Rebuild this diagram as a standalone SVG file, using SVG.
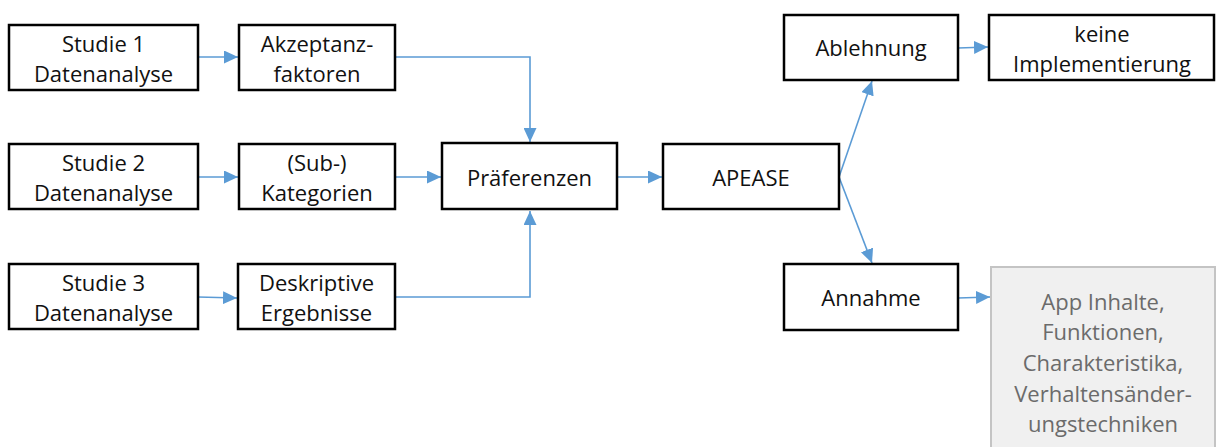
<svg xmlns="http://www.w3.org/2000/svg" width="1217" height="447" viewBox="0 0 1217 447">
<style>
.box{fill:#fff;stroke:#000;stroke-width:2.5}
.gbox{fill:#f0f0f0;stroke:#c4c4c4;stroke-width:2}
text{font-family:"Open Sans","Liberation Sans",sans-serif;font-size:22px;fill:#111;text-anchor:middle}
.g{fill:#6b6b6b}
.c{fill:none;stroke:#5b9bd5;stroke-width:1.6}
</style>
<defs>
<marker id="ah" markerWidth="14" markerHeight="13" refX="14" refY="6.5" orient="auto" markerUnits="userSpaceOnUse" viewBox="0 0 14 13">
<path d="M0,0 L14,6.5 L0,13 z" fill="#5b9bd5"/>
</marker>
</defs>
<g id="connectors">
<path class="c" d="M198,57 L238,57" marker-end="url(#ah)"/>
<path class="c" d="M395,57 L530,57 L530,142" marker-end="url(#ah)"/>
<path class="c" d="M198,177 L238,177" marker-end="url(#ah)"/>
<path class="c" d="M395,177 L441,177" marker-end="url(#ah)"/>
<path class="c" d="M198,297 L237,298" marker-end="url(#ah)"/>
<path class="c" d="M395,297 L530,297 L530,211" marker-end="url(#ah)"/>
<path class="c" d="M617,177 L662,177" marker-end="url(#ah)"/>
<path class="c" d="M839,177 L872,81" marker-end="url(#ah)"/>
<path class="c" d="M839,177 L872,263" marker-end="url(#ah)"/>
<path class="c" d="M958,48 L988,47" marker-end="url(#ah)"/>
<path class="c" d="M958,298 L990,297" marker-end="url(#ah)"/>
</g>
<g id="s1"><rect class="box" x="9" y="25" width="189" height="65"/><text x="103.5" y="52">Studie 1</text><text x="103.5" y="82">Datenanalyse</text></g>
<g id="akz"><rect class="box" x="239" y="25" width="156" height="65"/><text x="317" y="52">Akzeptanz-</text><text x="317" y="82">faktoren</text></g>
<g id="s2"><rect class="box" x="9" y="144" width="189" height="65"/><text x="103.5" y="171">Studie 2</text><text x="103.5" y="201">Datenanalyse</text></g>
<g id="kat"><rect class="box" x="239" y="144" width="156" height="65"/><text x="317" y="171">(Sub-)</text><text x="317" y="201">Kategorien</text></g>
<g id="s3"><rect class="box" x="9" y="264" width="189" height="65"/><text x="103.5" y="291">Studie 3</text><text x="103.5" y="321">Datenanalyse</text></g>
<g id="desk"><rect class="box" x="238" y="264" width="157" height="65"/><text x="316.5" y="291">Deskriptive</text><text x="316.5" y="321">Ergebnisse</text></g>
<g id="pref"><rect class="box" x="442" y="143" width="175" height="66"/><text x="529.5" y="186">Präferenzen</text></g>
<g id="apease"><rect class="box" x="663" y="144" width="176" height="65"/><text x="751" y="186">APEASE</text></g>
<g id="abl"><rect class="box" x="784" y="15" width="174" height="65"/><text x="871" y="56">Ablehnung</text></g>
<g id="keine"><rect class="box" x="989" y="15" width="225" height="65"/><text x="1102" y="42">keine</text><text x="1102" y="72">Implementierung</text></g>
<g id="ann"><rect class="box" x="784" y="264" width="174" height="66"/><text x="871" y="306">Annahme</text></g>
<g id="app"><rect class="gbox" x="991" y="267" width="224" height="200"/><text class="g" x="1103" y="310">App Inhalte,</text><text class="g" x="1103" y="340">Funktionen,</text><text class="g" x="1103" y="371">Charakteristika,</text><text class="g" x="1103" y="402">Verhaltensänder-</text><text class="g" x="1103" y="432">ungstechniken</text></g>
</svg>
